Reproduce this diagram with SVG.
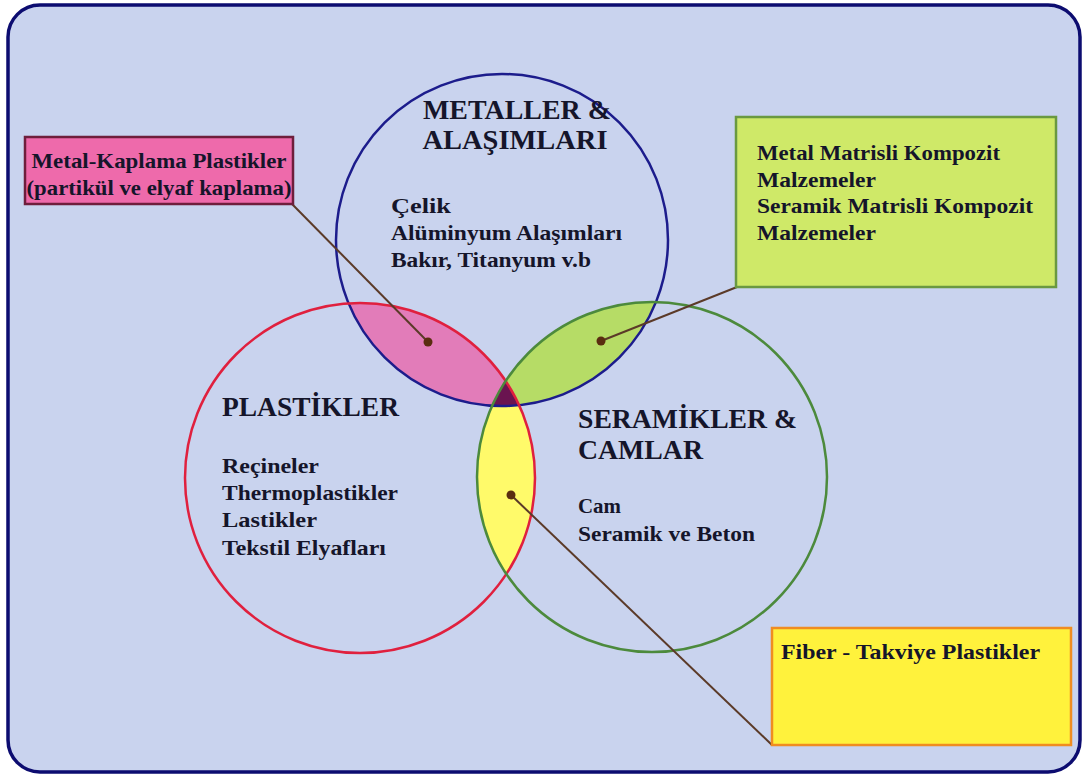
<svg xmlns="http://www.w3.org/2000/svg" width="1086" height="778" viewBox="0 0 1086 778">
<style>
text{font-family:"Liberation Serif","Times New Roman",serif;font-weight:bold;fill:#15152a}
.t{font-size:27px}
.b{font-size:21px}
.conn{stroke:#5b3a28;stroke-width:2;fill:none}
.dot{fill:#5a2d10}
</style>
<defs>
<clipPath id="cM"><circle cx="502" cy="240" r="166"/></clipPath>
<clipPath id="cP"><circle cx="360" cy="478" r="175"/></clipPath>
<clipPath id="cC"><circle cx="652" cy="477" r="175"/></clipPath>
</defs>
<rect x="0" y="0" width="1086" height="778" fill="#ffffff"/>
<rect id="frame" x="8" y="5" width="1072" height="767" rx="32" ry="32" fill="#c9d3ee" stroke="#0c0c70" stroke-width="3.5"/>

<g id="overlaps">
<g clip-path="url(#cM)"><circle cx="360" cy="478" r="175" fill="#e27cb9"/></g>
<g clip-path="url(#cM)"><circle cx="652" cy="477" r="175" fill="#b6dc66"/></g>
<g clip-path="url(#cP)"><circle cx="652" cy="477" r="175" fill="#fffa6a"/></g>
<g clip-path="url(#cM)"><g clip-path="url(#cP)"><circle cx="652" cy="477" r="175" fill="#6a1450"/></g></g>
</g>

<g id="metals">
<circle cx="502" cy="240" r="166" fill="none" stroke="#1c1c8c" stroke-width="2.5"/>
<text class="t" x="517" y="119" text-anchor="middle" textLength="188" lengthAdjust="spacingAndGlyphs">METALLER &amp;</text>
<text class="t" x="515" y="149" text-anchor="middle" textLength="185" lengthAdjust="spacingAndGlyphs">ALAŞIMLARI</text>
<text class="b" x="391" y="213" textLength="60" lengthAdjust="spacingAndGlyphs">Çelik</text>
<text class="b" x="391" y="240" textLength="231" lengthAdjust="spacingAndGlyphs">Alüminyum Alaşımları</text>
<text class="b" x="391" y="267" textLength="200" lengthAdjust="spacingAndGlyphs">Bakır, Titanyum v.b</text>
</g>

<g id="plastics">
<circle cx="360" cy="478" r="175" fill="none" stroke="#e0203e" stroke-width="2.5"/>
<text class="t" x="222" y="416" textLength="177" lengthAdjust="spacingAndGlyphs">PLASTİKLER</text>
<text class="b" x="222" y="473" textLength="97" lengthAdjust="spacingAndGlyphs">Reçineler</text>
<text class="b" x="222" y="500" textLength="176" lengthAdjust="spacingAndGlyphs">Thermoplastikler</text>
<text class="b" x="222" y="527" textLength="95" lengthAdjust="spacingAndGlyphs">Lastikler</text>
<text class="b" x="222" y="555" textLength="164" lengthAdjust="spacingAndGlyphs">Tekstil Elyafları</text>
</g>

<g id="ceramics">
<circle cx="652" cy="477" r="175" fill="none" stroke="#4c8a3c" stroke-width="2.5"/>
<text class="t" x="578" y="428" textLength="219" lengthAdjust="spacingAndGlyphs">SERAMİKLER &amp;</text>
<text class="t" x="578" y="459" textLength="125" lengthAdjust="spacingAndGlyphs">CAMLAR</text>
<text class="b" x="578" y="513" textLength="43" lengthAdjust="spacingAndGlyphs">Cam</text>
<text class="b" x="578" y="541" textLength="177" lengthAdjust="spacingAndGlyphs">Seramik ve Beton</text>
</g>

<g id="connectors">
<line class="conn" x1="292" y1="204" x2="428" y2="342"/>
<line class="conn" x1="737" y1="287" x2="601" y2="341"/>
<line class="conn" x1="511" y1="495" x2="772" y2="745"/>
<circle class="dot" cx="428" cy="342" r="4.5"/>
<circle class="dot" cx="601" cy="341" r="4.5"/>
<circle class="dot" cx="511" cy="495" r="4.5"/>
</g>

<g id="box-metal-plastic">
<rect x="25" y="137" width="268" height="67" fill="#ee6aab" stroke="#6e1e3c" stroke-width="2.5"/>
<text class="b" x="159" y="168" text-anchor="middle" textLength="255" lengthAdjust="spacingAndGlyphs">Metal-Kaplama Plastikler</text>
<text class="b" x="159" y="195" text-anchor="middle" textLength="265" lengthAdjust="spacingAndGlyphs">(partikül ve elyaf kaplama)</text>
</g>

<g id="box-composites">
<rect x="736" y="117" width="320" height="170" fill="#cfe968" stroke="#6a9940" stroke-width="2.5"/>
<text class="b" x="757" y="160" textLength="243" lengthAdjust="spacingAndGlyphs">Metal Matrisli Kompozit</text>
<text class="b" x="757" y="187" textLength="119" lengthAdjust="spacingAndGlyphs">Malzemeler</text>
<text class="b" x="757" y="213" textLength="276" lengthAdjust="spacingAndGlyphs">Seramik Matrisli Kompozit</text>
<text class="b" x="757" y="240" textLength="119" lengthAdjust="spacingAndGlyphs">Malzemeler</text>
</g>

<g id="box-fiber">
<rect x="772" y="628" width="299" height="117" fill="#fff23c" stroke="#f08c20" stroke-width="2.5"/>
<text class="b" x="781" y="659" textLength="259" lengthAdjust="spacingAndGlyphs">Fiber - Takviye Plastikler</text>
</g>
</svg>
